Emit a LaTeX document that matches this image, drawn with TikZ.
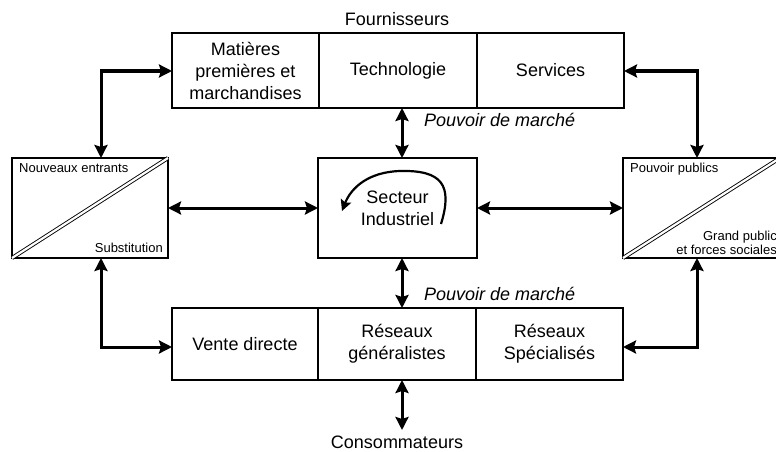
\documentclass[tikz,border=0pt]{standalone}
\usepackage{fontspec}
\setmainfont{Liberation Sans}
\usetikzlibrary{arrows.meta}
\begin{document}
\begin{tikzpicture}[x=1pt,y=-1pt,
  boxst/.style={draw,line width=2.7pt,inner sep=0pt,outer sep=0pt,align=center,font=\fontsize{18}{22}\selectfont},
  conn/.style={line width=3pt,{Stealth[length=13pt,width=13pt,inset=2pt]}-{Stealth[length=13pt,width=13pt,inset=2pt]}},
  big/.style={font=\fontsize{18}{22}\selectfont,inner sep=0pt},
  small/.style={font=\fontsize{13}{15}\selectfont,inner sep=0pt}]
\useasboundingbox (0,0) rectangle (776,452);
\begin{scope}
\clip (0,0) rectangle (776,452);
% top row
\node[boxst,minimum width=147pt,minimum height=75pt] (t1) at (245.5,70.5) {Matières\\premières et\\marchandises};
\node[boxst,minimum width=158pt,minimum height=75pt] (t2) at (398,70.5) {Technologie};
\node[boxst,minimum width=147pt,minimum height=75pt] (t3) at (550.5,70.5) {Services};
% bottom row
\node[boxst,minimum width=146pt,minimum height=72pt] (b1) at (245,344) {Vente directe};
\node[boxst,minimum width=158pt,minimum height=72pt] (b2) at (397,344) {Réseaux\\généralistes};
\node[boxst,minimum width=147pt,minimum height=72pt] (b3) at (549.5,344) {Réseaux\\Spécialisés};
% middle row
\node[boxst,minimum width=156pt,minimum height=100pt] (L) at (90,208) {};
\node[boxst,minimum width=159pt,minimum height=100pt] (C) at (397.5,208) {Secteur\\Industriel};
\node[boxst,minimum width=157pt,minimum height=100pt] (R) at (701.5,208) {};
\draw[double,double distance=2.2pt,line width=0.9pt] (L.south west) -- (L.north east);
\draw[double,double distance=2.2pt,line width=0.9pt] (R.south west) -- (R.north east);
\node[small,anchor=base west] (ne) at (19,172) {Nouveaux entrants};
\node[small,anchor=base east] (su) at (163,252) {Substitution};
\node[small,anchor=base west] (pp) at (630,172) {Pouvoir publics};
\node[small,anchor=base east] (gp) at (777,240) {Grand public};
\node[small,anchor=base east] (fs) at (777,254) {et forces sociales};
% curved arrow in sector box
\draw[line width=2.2pt,-{Stealth[length=11pt,width=11pt,inset=2pt]}] (441,224) .. controls (453,185) and (442,170) .. (400,171) .. controls (368,172) and (351,188) .. (342,211);
% connectors
\coordinate (tl) at (101,71);
\coordinate (bl) at (101,347);
\coordinate (tr) at (697,71);
\coordinate (br) at (697,347);
\coordinate (cx) at (402,0);
\coordinate (cb) at (402,430);
\draw[conn] (t1.west |- tl) -- (tl) -- (tl |- L.north);
\draw[conn] (bl |- L.south) -- (bl) -- (bl -| b1.west);
\draw[conn] (t3.east |- tr) -- (tr) -- (tr |- R.north);
\draw[conn] (br |- R.south) -- (br) -- (br -| b3.east);
\draw[conn] (L.east) -- (C.west);
\draw[conn] (C.east) -- (R.west);
\draw[conn] (t2.south -| cx) -- (C.north -| cx);
\draw[conn] (C.south -| cx) -- (b2.north -| cx);
\draw[conn] (b2.south -| cx) -- (cb);
% labels
\node[big,font=\fontsize{18}{22}\selectfont\itshape,anchor=west] (pm1) at (424,120) {Pouvoir de marché};
\node[big,font=\fontsize{18}{22}\selectfont\itshape,anchor=west] (pm2) at (424,294) {Pouvoir de marché};
\node[big] (fo) at (397,19) {Fournisseurs};
\node[big] (co) at (397,442) {Consommateurs};
\end{scope}
\end{tikzpicture}
\end{document}
